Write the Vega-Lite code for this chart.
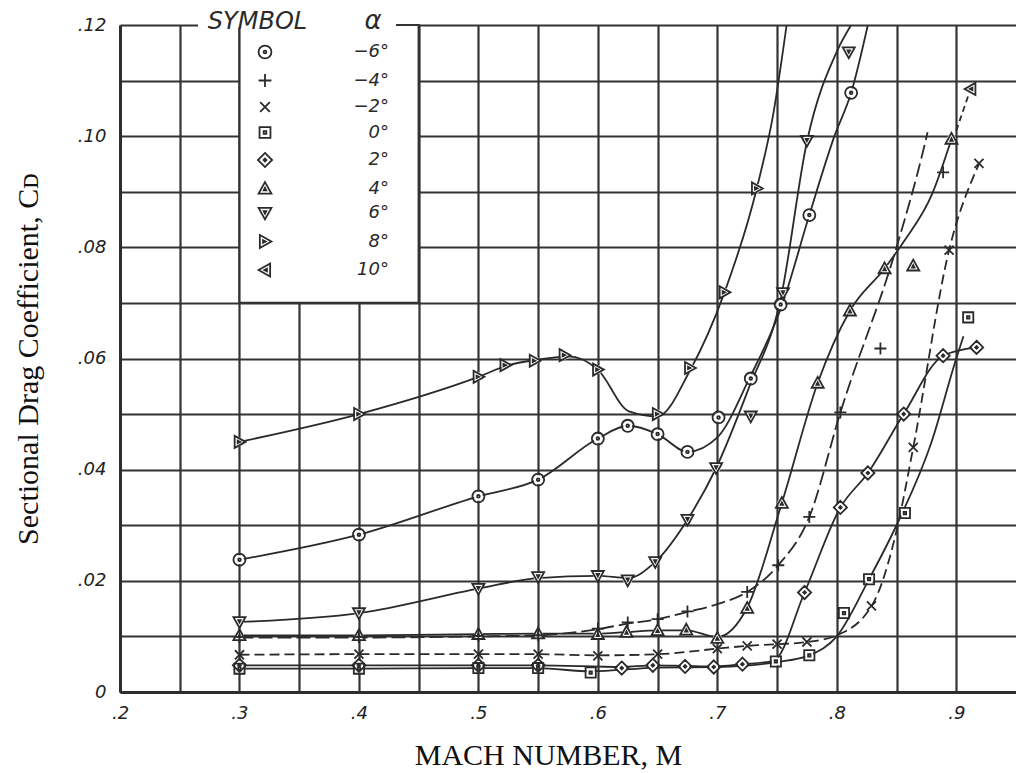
{
  "$schema": "https://vega.github.io/schema/vega-lite/v6.json",
  "width": 896,
  "height": 667,
  "autosize": {"type": "none"},
  "padding": {"left": 120, "top": 25, "right": 0, "bottom": 81},
  "background": "white",
  "config": {
    "view": {"stroke": null},
    "axis": {
      "grid": true, "gridColor": "#333", "gridWidth": 2.2, "gridOpacity": 1,
      "domainColor": "#2e2e2e", "domainWidth": 3, "ticks": false,
      "labelFont": "DejaVu Sans", "labelFontStyle": "italic", "labelFontSize": 18, "labelColor": "#222",
      "labelOverlap": false, "labelFlush": false,
      "titleFont": "Liberation Serif", "titleFontSize": 30, "titleFontWeight": "normal", "titleColor": "#111"
    }
  },
  "datasets": {
    "pts": [
      {"alpha": -6, "mach": 0.3, "cd": 0.0238}, {"alpha": -6, "mach": 0.4, "cd": 0.0283}, {"alpha": -6, "mach": 0.5, "cd": 0.0352}, {"alpha": -6, "mach": 0.55, "cd": 0.0382}, {"alpha": -6, "mach": 0.6, "cd": 0.0456}, {"alpha": -6, "mach": 0.625, "cd": 0.0479}, {"alpha": -6, "mach": 0.65, "cd": 0.0464}, {"alpha": -6, "mach": 0.675, "cd": 0.0432}, {"alpha": -6, "mach": 0.701, "cd": 0.0494}, {"alpha": -6, "mach": 0.728, "cd": 0.0564}, {"alpha": -6, "mach": 0.753, "cd": 0.0697}, {"alpha": -6, "mach": 0.777, "cd": 0.0858}, {"alpha": -6, "mach": 0.812, "cd": 0.1078},
      {"alpha": -4, "mach": 0.3, "cd": 0.0099}, {"alpha": -4, "mach": 0.4, "cd": 0.0099}, {"alpha": -4, "mach": 0.5, "cd": 0.0101}, {"alpha": -4, "mach": 0.55, "cd": 0.0102}, {"alpha": -4, "mach": 0.6, "cd": 0.0114}, {"alpha": -4, "mach": 0.625, "cd": 0.0125}, {"alpha": -4, "mach": 0.65, "cd": 0.0131}, {"alpha": -4, "mach": 0.675, "cd": 0.0145}, {"alpha": -4, "mach": 0.725, "cd": 0.018}, {"alpha": -4, "mach": 0.751, "cd": 0.0228}, {"alpha": -4, "mach": 0.777, "cd": 0.0315}, {"alpha": -4, "mach": 0.803, "cd": 0.0503}, {"alpha": -4, "mach": 0.8365, "cd": 0.0618}, {"alpha": -4, "mach": 0.889, "cd": 0.0935},
      {"alpha": -2, "mach": 0.3, "cd": 0.0067}, {"alpha": -2, "mach": 0.4, "cd": 0.0068}, {"alpha": -2, "mach": 0.5, "cd": 0.0068}, {"alpha": -2, "mach": 0.55, "cd": 0.0068}, {"alpha": -2, "mach": 0.6, "cd": 0.0065}, {"alpha": -2, "mach": 0.65, "cd": 0.0068}, {"alpha": -2, "mach": 0.7, "cd": 0.0078}, {"alpha": -2, "mach": 0.725, "cd": 0.0083}, {"alpha": -2, "mach": 0.75, "cd": 0.0086}, {"alpha": -2, "mach": 0.775, "cd": 0.009}, {"alpha": -2, "mach": 0.829, "cd": 0.0155}, {"alpha": -2, "mach": 0.864, "cd": 0.044}, {"alpha": -2, "mach": 0.894, "cd": 0.0795}, {"alpha": -2, "mach": 0.919, "cd": 0.0951},
      {"alpha": 0, "mach": 0.3, "cd": 0.0042}, {"alpha": 0, "mach": 0.4, "cd": 0.0042}, {"alpha": 0, "mach": 0.5, "cd": 0.0043}, {"alpha": 0, "mach": 0.55, "cd": 0.0043}, {"alpha": 0, "mach": 0.594, "cd": 0.0035}, {"alpha": 0, "mach": 0.749, "cd": 0.0055}, {"alpha": 0, "mach": 0.777, "cd": 0.0066}, {"alpha": 0, "mach": 0.806, "cd": 0.0142}, {"alpha": 0, "mach": 0.827, "cd": 0.0203}, {"alpha": 0, "mach": 0.857, "cd": 0.0322}, {"alpha": 0, "mach": 0.91, "cd": 0.0674},
      {"alpha": 2, "mach": 0.3, "cd": 0.0048}, {"alpha": 2, "mach": 0.4, "cd": 0.0048}, {"alpha": 2, "mach": 0.5, "cd": 0.0048}, {"alpha": 2, "mach": 0.55, "cd": 0.0048}, {"alpha": 2, "mach": 0.62, "cd": 0.0043}, {"alpha": 2, "mach": 0.646, "cd": 0.0048}, {"alpha": 2, "mach": 0.673, "cd": 0.0046}, {"alpha": 2, "mach": 0.697, "cd": 0.0045}, {"alpha": 2, "mach": 0.721, "cd": 0.005}, {"alpha": 2, "mach": 0.773, "cd": 0.0179}, {"alpha": 2, "mach": 0.803, "cd": 0.0332}, {"alpha": 2, "mach": 0.826, "cd": 0.0394}, {"alpha": 2, "mach": 0.856, "cd": 0.05}, {"alpha": 2, "mach": 0.889, "cd": 0.0605}, {"alpha": 2, "mach": 0.917, "cd": 0.062},
      {"alpha": 4, "mach": 0.3, "cd": 0.0102}, {"alpha": 4, "mach": 0.4, "cd": 0.0102}, {"alpha": 4, "mach": 0.5, "cd": 0.0104}, {"alpha": 4, "mach": 0.55, "cd": 0.0105}, {"alpha": 4, "mach": 0.6, "cd": 0.0104}, {"alpha": 4, "mach": 0.624, "cd": 0.0108}, {"alpha": 4, "mach": 0.65, "cd": 0.0111}, {"alpha": 4, "mach": 0.674, "cd": 0.0112}, {"alpha": 4, "mach": 0.7, "cd": 0.0097}, {"alpha": 4, "mach": 0.725, "cd": 0.0151}, {"alpha": 4, "mach": 0.754, "cd": 0.034}, {"alpha": 4, "mach": 0.784, "cd": 0.0556}, {"alpha": 4, "mach": 0.811, "cd": 0.0686}, {"alpha": 4, "mach": 0.84, "cd": 0.0762}, {"alpha": 4, "mach": 0.864, "cd": 0.0767}, {"alpha": 4, "mach": 0.896, "cd": 0.0995},
      {"alpha": 6, "mach": 0.3, "cd": 0.0126}, {"alpha": 6, "mach": 0.4, "cd": 0.0142}, {"alpha": 6, "mach": 0.5, "cd": 0.0186}, {"alpha": 6, "mach": 0.55, "cd": 0.0207}, {"alpha": 6, "mach": 0.6, "cd": 0.0209}, {"alpha": 6, "mach": 0.625, "cd": 0.0201}, {"alpha": 6, "mach": 0.648, "cd": 0.0234}, {"alpha": 6, "mach": 0.675, "cd": 0.031}, {"alpha": 6, "mach": 0.699, "cd": 0.0403}, {"alpha": 6, "mach": 0.728, "cd": 0.0496}, {"alpha": 6, "mach": 0.755, "cd": 0.0718}, {"alpha": 6, "mach": 0.775, "cd": 0.0992}, {"alpha": 6, "mach": 0.81, "cd": 0.1151},
      {"alpha": 8, "mach": 0.3, "cd": 0.045}, {"alpha": 8, "mach": 0.4, "cd": 0.05}, {"alpha": 8, "mach": 0.5, "cd": 0.0567}, {"alpha": 8, "mach": 0.5225, "cd": 0.0588}, {"alpha": 8, "mach": 0.547, "cd": 0.0596}, {"alpha": 8, "mach": 0.572, "cd": 0.0606}, {"alpha": 8, "mach": 0.6, "cd": 0.058}, {"alpha": 8, "mach": 0.65, "cd": 0.05}, {"alpha": 8, "mach": 0.677, "cd": 0.0583}, {"alpha": 8, "mach": 0.706, "cd": 0.0719}, {"alpha": 8, "mach": 0.733, "cd": 0.0906},
      {"alpha": 10, "mach": 0.912, "cd": 0.1085}
    ],
    "curves": [
      {"alpha": -6, "mach": 0.3, "cd": 0.0238}, {"alpha": -6, "mach": 0.4, "cd": 0.0283}, {"alpha": -6, "mach": 0.5, "cd": 0.0352}, {"alpha": -6, "mach": 0.55, "cd": 0.0382}, {"alpha": -6, "mach": 0.6, "cd": 0.0456}, {"alpha": -6, "mach": 0.625, "cd": 0.0479}, {"alpha": -6, "mach": 0.65, "cd": 0.0464}, {"alpha": -6, "mach": 0.675, "cd": 0.0432}, {"alpha": -6, "mach": 0.7, "cd": 0.0458}, {"alpha": -6, "mach": 0.727, "cd": 0.0565}, {"alpha": -6, "mach": 0.754, "cd": 0.0695}, {"alpha": -6, "mach": 0.777, "cd": 0.0858}, {"alpha": -6, "mach": 0.798, "cd": 0.1}, {"alpha": -6, "mach": 0.812, "cd": 0.1078}, {"alpha": -6, "mach": 0.826, "cd": 0.12},
      {"alpha": -4, "mach": 0.3, "cd": 0.0098}, {"alpha": -4, "mach": 0.4, "cd": 0.0098}, {"alpha": -4, "mach": 0.5, "cd": 0.01}, {"alpha": -4, "mach": 0.55, "cd": 0.0102}, {"alpha": -4, "mach": 0.6, "cd": 0.0113}, {"alpha": -4, "mach": 0.625, "cd": 0.0123}, {"alpha": -4, "mach": 0.65, "cd": 0.0131}, {"alpha": -4, "mach": 0.675, "cd": 0.0144}, {"alpha": -4, "mach": 0.7, "cd": 0.0158}, {"alpha": -4, "mach": 0.725, "cd": 0.018}, {"alpha": -4, "mach": 0.751, "cd": 0.0228}, {"alpha": -4, "mach": 0.777, "cd": 0.0315}, {"alpha": -4, "mach": 0.803, "cd": 0.0503}, {"alpha": -4, "mach": 0.85, "cd": 0.08}, {"alpha": -4, "mach": 0.872, "cd": 0.0971}, {"alpha": -4, "mach": 0.876, "cd": 0.1007},
      {"alpha": -2, "mach": 0.3, "cd": 0.0067}, {"alpha": -2, "mach": 0.4, "cd": 0.0068}, {"alpha": -2, "mach": 0.5, "cd": 0.0068}, {"alpha": -2, "mach": 0.55, "cd": 0.0068}, {"alpha": -2, "mach": 0.6, "cd": 0.0066}, {"alpha": -2, "mach": 0.65, "cd": 0.0068}, {"alpha": -2, "mach": 0.7, "cd": 0.0078}, {"alpha": -2, "mach": 0.725, "cd": 0.0083}, {"alpha": -2, "mach": 0.75, "cd": 0.0086}, {"alpha": -2, "mach": 0.775, "cd": 0.009}, {"alpha": -2, "mach": 0.8, "cd": 0.0102}, {"alpha": -2, "mach": 0.83, "cd": 0.0158}, {"alpha": -2, "mach": 0.85, "cd": 0.029}, {"alpha": -2, "mach": 0.864, "cd": 0.044}, {"alpha": -2, "mach": 0.894, "cd": 0.0795}, {"alpha": -2, "mach": 0.919, "cd": 0.095},
      {"alpha": 0, "mach": 0.3, "cd": 0.0042}, {"alpha": 0, "mach": 0.4, "cd": 0.0042}, {"alpha": 0, "mach": 0.5, "cd": 0.0043}, {"alpha": 0, "mach": 0.55, "cd": 0.0043}, {"alpha": 0, "mach": 0.594, "cd": 0.0037}, {"alpha": 0, "mach": 0.65, "cd": 0.0044}, {"alpha": 0, "mach": 0.7, "cd": 0.0045}, {"alpha": 0, "mach": 0.75, "cd": 0.0054}, {"alpha": 0, "mach": 0.777, "cd": 0.0066}, {"alpha": 0, "mach": 0.8, "cd": 0.01}, {"alpha": 0, "mach": 0.827, "cd": 0.0203}, {"alpha": 0, "mach": 0.85, "cd": 0.03}, {"alpha": 0, "mach": 0.879, "cd": 0.0448}, {"alpha": 0, "mach": 0.9, "cd": 0.06}, {"alpha": 0, "mach": 0.906, "cd": 0.064},
      {"alpha": 2, "mach": 0.3, "cd": 0.0048}, {"alpha": 2, "mach": 0.4, "cd": 0.0048}, {"alpha": 2, "mach": 0.5, "cd": 0.0048}, {"alpha": 2, "mach": 0.55, "cd": 0.0048}, {"alpha": 2, "mach": 0.62, "cd": 0.0045}, {"alpha": 2, "mach": 0.646, "cd": 0.0048}, {"alpha": 2, "mach": 0.673, "cd": 0.0047}, {"alpha": 2, "mach": 0.697, "cd": 0.0046}, {"alpha": 2, "mach": 0.721, "cd": 0.005}, {"alpha": 2, "mach": 0.747, "cd": 0.0056}, {"alpha": 2, "mach": 0.773, "cd": 0.0179}, {"alpha": 2, "mach": 0.803, "cd": 0.0332}, {"alpha": 2, "mach": 0.826, "cd": 0.0394}, {"alpha": 2, "mach": 0.856, "cd": 0.05}, {"alpha": 2, "mach": 0.889, "cd": 0.0605}, {"alpha": 2, "mach": 0.917, "cd": 0.062},
      {"alpha": 4, "mach": 0.3, "cd": 0.0102}, {"alpha": 4, "mach": 0.4, "cd": 0.0102}, {"alpha": 4, "mach": 0.5, "cd": 0.0104}, {"alpha": 4, "mach": 0.55, "cd": 0.0105}, {"alpha": 4, "mach": 0.6, "cd": 0.0105}, {"alpha": 4, "mach": 0.625, "cd": 0.0108}, {"alpha": 4, "mach": 0.65, "cd": 0.0111}, {"alpha": 4, "mach": 0.674, "cd": 0.0111}, {"alpha": 4, "mach": 0.7, "cd": 0.0099}, {"alpha": 4, "mach": 0.725, "cd": 0.0152}, {"alpha": 4, "mach": 0.754, "cd": 0.034}, {"alpha": 4, "mach": 0.784, "cd": 0.0556}, {"alpha": 4, "mach": 0.811, "cd": 0.0686}, {"alpha": 4, "mach": 0.84, "cd": 0.0762}, {"alpha": 4, "mach": 0.856, "cd": 0.081}, {"alpha": 4, "mach": 0.88, "cd": 0.0897}, {"alpha": 4, "mach": 0.896, "cd": 0.0995},
      {"alpha": 6, "mach": 0.3, "cd": 0.0126}, {"alpha": 6, "mach": 0.4, "cd": 0.0142}, {"alpha": 6, "mach": 0.5, "cd": 0.0186}, {"alpha": 6, "mach": 0.55, "cd": 0.0205}, {"alpha": 6, "mach": 0.6, "cd": 0.0209}, {"alpha": 6, "mach": 0.625, "cd": 0.0205}, {"alpha": 6, "mach": 0.648, "cd": 0.0234}, {"alpha": 6, "mach": 0.675, "cd": 0.031}, {"alpha": 6, "mach": 0.699, "cd": 0.0403}, {"alpha": 6, "mach": 0.726, "cd": 0.0545}, {"alpha": 6, "mach": 0.753, "cd": 0.0707}, {"alpha": 6, "mach": 0.775, "cd": 0.099}, {"alpha": 6, "mach": 0.8006, "cd": 0.1155}, {"alpha": 6, "mach": 0.812, "cd": 0.12},
      {"alpha": 8, "mach": 0.3, "cd": 0.045}, {"alpha": 8, "mach": 0.4, "cd": 0.05}, {"alpha": 8, "mach": 0.5, "cd": 0.0567}, {"alpha": 8, "mach": 0.525, "cd": 0.0588}, {"alpha": 8, "mach": 0.55, "cd": 0.0598}, {"alpha": 8, "mach": 0.575, "cd": 0.0604}, {"alpha": 8, "mach": 0.6, "cd": 0.058}, {"alpha": 8, "mach": 0.626, "cd": 0.0505}, {"alpha": 8, "mach": 0.65, "cd": 0.0496}, {"alpha": 8, "mach": 0.677, "cd": 0.0578}, {"alpha": 8, "mach": 0.706, "cd": 0.0719}, {"alpha": 8, "mach": 0.733, "cd": 0.0906}, {"alpha": 8, "mach": 0.747, "cd": 0.1042}, {"alpha": 8, "mach": 0.758, "cd": 0.12},
      {"alpha": 10, "mach": 0.9, "cd": 0.101}, {"alpha": 10, "mach": 0.912, "cd": 0.1085}
    ]
  },
  "layer": [
    {
      "data": {"values": [{}]},
      "mark": {"type": "rect", "fill": "white", "stroke": "#333", "strokeWidth": 2.2},
      "encoding": {
        "x": {"datum": 0.3, "type": "quantitative"}, "x2": {"datum": 0.45},
        "y": {"datum": 0.07, "type": "quantitative"}, "y2": {"datum": 0.12}
      }
    },
    {
      "data": {"values": [{}]},
      "mark": {"type": "rect", "fill": "white", "strokeWidth": 0},
      "encoding": {
        "x": {"datum": 0.2653, "type": "quantitative"}, "x2": {"datum": 0.431},
        "y": {"datum": 0.1195, "type": "quantitative"}, "y2": {"datum": 0.1228}
      }
    },
    {
      "data": {"values": [{}]},
      "mark": {"type": "text", "text": "SYMBOL", "font": "DejaVu Sans", "fontStyle": "italic", "fontSize": 24, "color": "#2a2a2a", "align": "center", "baseline": "alphabetic"},
      "encoding": {"x": {"datum": 0.3151, "type": "quantitative"}, "y": {"datum": 0.1192, "type": "quantitative"}}
    },
    {
      "data": {"values": [{}]},
      "mark": {"type": "text", "text": "α", "font": "DejaVu Sans", "fontStyle": "italic", "fontSize": 26, "color": "#2a2a2a", "align": "center", "baseline": "alphabetic"},
      "encoding": {"x": {"datum": 0.4118, "type": "quantitative"}, "y": {"datum": 0.1192, "type": "quantitative"}}
    },
    {
      "data": {"name": "curves"},
      "transform": [{"filter": "datum.alpha != -4 && datum.alpha != -2 && datum.alpha != 10"}],
      "mark": {"type": "line", "interpolate": "monotone", "color": "#2a2a2a", "strokeWidth": 1.8, "clip": true},
      "encoding": {
        "x": {
          "field": "mach", "type": "quantitative",
          "scale": {"domain": [0.2, 0.95], "nice": false, "zero": false},
          "axis": {
            "values": [0.2, 0.25, 0.3, 0.35, 0.4, 0.45, 0.5, 0.55, 0.6, 0.65, 0.7, 0.75, 0.8, 0.85, 0.9],
            "labelExpr": "(round(datum.value*100) % 10 == 0) ? replace(format(datum.value, '.1f'), '0.', '.') : ''",
            "labelPadding": 12,
            "title": "MACH NUMBER, M", "titlePadding": 18, "titleX": 428
          }
        },
        "y": {
          "field": "cd", "type": "quantitative",
          "scale": {"domain": [0, 0.12], "nice": false, "zero": true},
          "axis": {
            "values": [0, 0.01, 0.02, 0.03, 0.04, 0.05, 0.06, 0.07, 0.08, 0.09, 0.1, 0.11, 0.12],
            "labelExpr": "datum.value == 0 ? '0' : ((round(datum.value*100) % 2 == 0) ? replace(format(datum.value, '.2f'), '0.', '.') : '')",
            "labelPadding": 14,
            "title": "Sectional Drag Coefficient, Cᴅ", "titlePadding": 34
          }
        },
        "detail": {"field": "alpha", "type": "nominal"},
        "order": {"field": "mach", "type": "quantitative"}
      }
    },
    {
      "data": {"name": "curves"},
      "transform": [{"filter": "datum.alpha == -4"}],
      "mark": {"type": "line", "interpolate": "monotone", "color": "#2a2a2a", "strokeWidth": 1.8, "strokeDash": [14, 5], "clip": true},
      "encoding": {
        "x": {"field": "mach", "type": "quantitative"},
        "y": {"field": "cd", "type": "quantitative"},
        "order": {"field": "mach", "type": "quantitative"}
      }
    },
    {
      "data": {"name": "curves"},
      "transform": [{"filter": "datum.alpha == -2"}],
      "mark": {"type": "line", "interpolate": "monotone", "color": "#2a2a2a", "strokeWidth": 1.8, "strokeDash": [10, 5], "clip": true},
      "encoding": {
        "x": {"field": "mach", "type": "quantitative"},
        "y": {"field": "cd", "type": "quantitative"},
        "order": {"field": "mach", "type": "quantitative"}
      }
    },
    {
      "data": {"name": "curves"},
      "transform": [{"filter": "datum.alpha == 10"}],
      "mark": {"type": "line", "interpolate": "monotone", "color": "#2a2a2a", "strokeWidth": 1.8, "strokeDash": [6, 4], "clip": true},
      "encoding": {
        "x": {"field": "mach", "type": "quantitative"},
        "y": {"field": "cd", "type": "quantitative"},
        "order": {"field": "mach", "type": "quantitative"}
      }
    },
    {
      "data": {"name": "pts"},
      "transform": [{"filter": "datum.alpha != -4 && datum.alpha != -2"}],
      "mark": {"type": "point", "filled": true, "color": "white", "size": 80, "opacity": 1, "shape": "circle"},
      "encoding": {
        "x": {"field": "mach", "type": "quantitative"},
        "y": {"field": "cd", "type": "quantitative"}
      }
    },
    {
      "data": {"name": "pts"},
      "mark": {"type": "point", "filled": false, "color": "#2a2a2a", "strokeWidth": 1.8, "size": 145, "opacity": 1},
      "encoding": {
        "x": {"field": "mach", "type": "quantitative"},
        "y": {"field": "cd", "type": "quantitative"},
        "shape": {
          "field": "alpha", "type": "nominal",
          "scale": {
            "domain": [-6, -4, -2, 0, 2, 4, 6, 8, 10],
            "range": [
              "M1,0A1,1,0,1,1,-1,0A1,1,0,1,1,1,0ZM0.22,0A0.22,0.22,0,1,1,-0.22,0A0.22,0.22,0,1,1,0.22,0Z",
              "M-1,0L1,0M0,-1L0,1",
              "M-0.75,-0.75L0.75,0.75M-0.75,0.75L0.75,-0.75",
              "M-0.85,-0.85L0.85,-0.85L0.85,0.85L-0.85,0.85ZM-0.2,-0.2L0.2,-0.2L0.2,0.2L-0.2,0.2Z",
              "M0,-1.1L1.1,0L0,1.1L-1.1,0ZM0,-0.22L0.22,0L0,0.22L-0.22,0Z",
              "M0,-1L1,0.8L-1,0.8ZM0,-0.1L0.2,0.3L-0.2,0.3Z",
              "M0,1L1,-0.8L-1,-0.8ZM0,0.1L0.2,-0.3L-0.2,-0.3Z",
              "M1,0L-0.8,-1L-0.8,1ZM0.1,0L-0.3,-0.2L-0.3,0.2Z",
              "M-1,0L0.8,-1L0.8,1ZM-0.1,0L0.3,-0.2L0.3,0.2Z"
            ]
          },
          "legend": {
            "orient": "none", "legendX": 136, "legendY": 18, "title": null, "padding": 0,
            "symbolSize": 165, "symbolStrokeWidth": 1.8,
            "labelFont": "DejaVu Sans", "labelFontStyle": "italic", "labelFontSize": 18, "labelColor": "#2a2a2a",
            "labelAlign": "right", "labelOffset": 115, "rowPadding": 6.5,
            "labelExpr": "replace(datum.label, '-', '−') + '°'"
          }
        }
      }
    }
  ]
}
